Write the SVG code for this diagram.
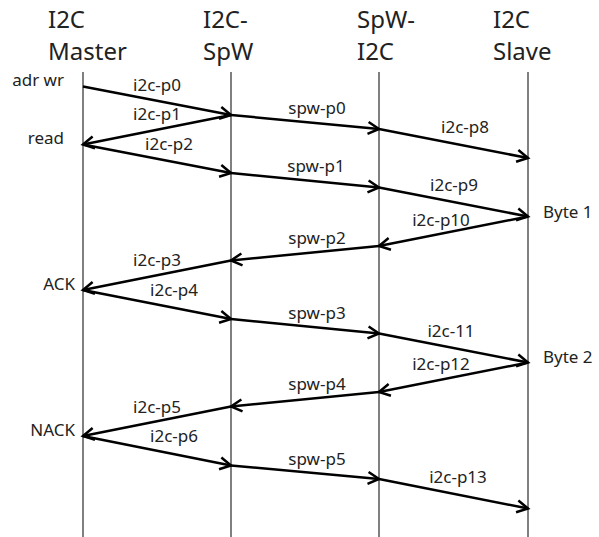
<svg xmlns="http://www.w3.org/2000/svg" width="599" height="537" viewBox="0 0 599 537">
<defs>
<style>
.life{stroke:#808080;stroke-width:2;fill:none}
.msg{stroke:#000;stroke-width:2.5;fill:none;marker-end:url(#arr)}
.hd{font-family:"Noto Sans","Open Sans",sans-serif;font-size:24px;fill:#222}
.lb{font-family:"Noto Sans","Open Sans",sans-serif;font-size:17px;fill:#222;text-anchor:middle}
.ev{font-family:"Noto Sans","Open Sans",sans-serif;font-size:17px;fill:#222;text-anchor:end}
</style>
<marker id="arr" markerUnits="userSpaceOnUse" markerWidth="16" markerHeight="16" viewBox="-13 -8 16 16" refX="0" refY="0" orient="auto">
<path d="M -11 -6 L 0 0 L -11 6" fill="none" stroke="#000" stroke-width="2.5"/>
</marker>
</defs>
<rect width="599" height="537" fill="#fff"/>
<g id="master">
<line class="life" x1="83" y1="72" x2="83" y2="537"/>
<text class="hd" x="48" y="28">I2C</text>
<text class="hd" x="48" y="60">Master</text>
</g>
<g id="i2cspw">
<line class="life" x1="231" y1="72" x2="231" y2="537"/>
<text class="hd" x="203" y="28">I2C-</text>
<text class="hd" x="203" y="60">SpW</text>
</g>
<g id="spwi2c">
<line class="life" x1="379" y1="72" x2="379" y2="537"/>
<text class="hd" x="357" y="28">SpW-</text>
<text class="hd" x="357" y="60">I2C</text>
</g>
<g id="slave">
<line class="life" x1="528" y1="72" x2="528" y2="537"/>
<text class="hd" x="493" y="28">I2C</text>
<text class="hd" x="493" y="60">Slave</text>
</g>
<g id="events">
<text class="ev" x="64" y="86">adr wr</text>
<text class="ev" x="64" y="144">read</text>
<text class="ev" x="75" y="290">ACK</text>
<text class="ev" x="75" y="436">NACK</text>
<text class="ev" x="543" y="218" style="text-anchor:start">Byte 1</text>
<text class="ev" x="543" y="363" style="text-anchor:start">Byte 2</text>
</g>
<g id="connectors">
<line class="msg" x1="83" y1="86.5" x2="231" y2="115"/>
<line class="msg" x1="231" y1="115" x2="83" y2="144.5"/>
<line class="msg" x1="83" y1="144.5" x2="231" y2="173"/>
<line class="msg" x1="231" y1="115" x2="379" y2="129"/>
<line class="msg" x1="379" y1="129" x2="528" y2="158"/>
<line class="msg" x1="231" y1="173" x2="379" y2="187.5"/>
<line class="msg" x1="379" y1="187.5" x2="528" y2="216.5"/>
<line class="msg" x1="528" y1="216.5" x2="379" y2="246"/>
<line class="msg" x1="379" y1="246" x2="231" y2="260.5"/>
<line class="msg" x1="231" y1="260.5" x2="83" y2="290"/>
<line class="msg" x1="83" y1="290" x2="231" y2="319"/>
<line class="msg" x1="231" y1="319" x2="379" y2="333.5"/>
<line class="msg" x1="379" y1="333.5" x2="528" y2="362.5"/>
<line class="msg" x1="528" y1="362.5" x2="379" y2="392"/>
<line class="msg" x1="379" y1="392" x2="231" y2="406.5"/>
<line class="msg" x1="231" y1="406.5" x2="83" y2="436"/>
<line class="msg" x1="83" y1="436" x2="231" y2="465.5"/>
<line class="msg" x1="231" y1="465.5" x2="379" y2="479"/>
<line class="msg" x1="379" y1="479" x2="528" y2="508.5"/>
</g>
<g id="labels">
<text class="lb" x="157" y="91">i2c-p0</text>
<text class="lb" x="157" y="120">i2c-p1</text>
<text class="lb" x="169" y="150">i2c-p2</text>
<text class="lb" x="317" y="114">spw-p0</text>
<text class="lb" x="465" y="133">i2c-p8</text>
<text class="lb" x="316" y="172">spw-p1</text>
<text class="lb" x="454" y="191">i2c-p9</text>
<text class="lb" x="441" y="226">i2c-p10</text>
<text class="lb" x="317" y="244">spw-p2</text>
<text class="lb" x="157" y="266">i2c-p3</text>
<text class="lb" x="174" y="296">i2c-p4</text>
<text class="lb" x="317" y="319">spw-p3</text>
<text class="lb" x="451" y="337">i2c-11</text>
<text class="lb" x="441" y="370">i2c-p12</text>
<text class="lb" x="317" y="390">spw-p4</text>
<text class="lb" x="157" y="413">i2c-p5</text>
<text class="lb" x="174" y="442">i2c-p6</text>
<text class="lb" x="317" y="465">spw-p5</text>
<text class="lb" x="458" y="483">i2c-p13</text>
</g>
</svg>
